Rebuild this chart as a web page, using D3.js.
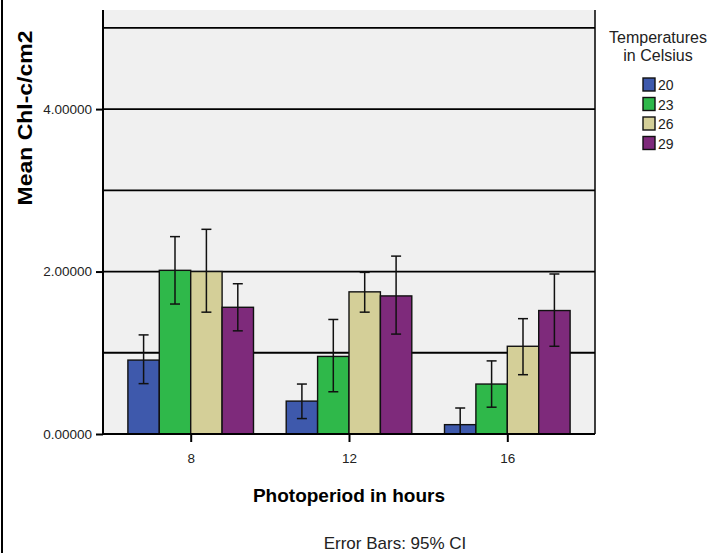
<!DOCTYPE html>
<html>
<head>
<meta charset="utf-8">
<script src="https://cdn.jsdelivr.net/npm/d3@7"></script>
<style>
  body { margin: 0; background: #fff; }
  svg { display: block; font-family: Arial, "Liberation Sans", sans-serif; }
</style>
</head>
<body>
<div id="frame"></div>
<script>
const width = 712
const height = 553
const margin = { top: 10, right: 117, bottom: 119, left: 103 }

// data
const periods = ['8', '12', '16']
const temps = ['20', '23', '26', '29']
const colors = ['#3e59ac', '#2fb84a', '#d4cf98', '#7e2a7b']
const means = [
  [0.91, 2.015, 2.00, 1.56],
  [0.405, 0.955, 1.75, 1.70],
  [0.115, 0.615, 1.08, 1.52]
]
const lower = [
  [0.62, 1.60, 1.50, 1.27],
  [0.19, 0.52, 1.50, 1.23],
  [-0.09, 0.33, 0.73, 1.08]
]
const upper = [
  [1.22, 2.43, 2.52, 1.85],
  [0.615, 1.41, 1.99, 2.19],
  [0.32, 0.90, 1.42, 1.97]
]
const yTicks = [0, 2, 4]
const yGrid = [1, 2, 3, 4, 5]

const x0 = margin.left
const x1 = width - margin.right
const yBottom = height - margin.bottom

const svg = d3.select('#frame').append('svg')
  .attr('width', width)
  .attr('height', height)

// left frame line of the exported picture
svg.append('line')
  .attr('x1', 2).attr('x2', 2).attr('y1', 0).attr('y2', height)
  .attr('stroke', '#000').attr('stroke-width', 2)

const y = d3.scaleLinear().domain([0, 5.22]).range([yBottom, margin.top])
const xGroup = d3.scalePoint().domain(periods).range([x0, x1]).padding(0.554)
const barW = 31.4
const xBar = d3.scaleBand().domain(temps).range([-2 * barW, 2 * barW])

svg.append('defs').append('clipPath').attr('id', 'plot')
  .append('rect').attr('x', x0).attr('y', margin.top)
  .attr('width', x1 - x0).attr('height', yBottom - margin.top)

svg.append('rect')
  .attr('x', x0).attr('y', margin.top)
  .attr('width', x1 - x0).attr('height', yBottom - margin.top)
  .attr('fill', '#f0f0f0')

svg.append('g').selectAll('line').data(yGrid).join('line')
  .attr('x1', x0).attr('x2', x1)
  .attr('y1', d => y(d)).attr('y2', d => y(d))
  .attr('stroke', '#000').attr('stroke-width', 1.8)

const rows = periods.flatMap((p, i) => temps.map((t, j) => ({
  p, t, j, mean: means[i][j], lo: lower[i][j], hi: upper[i][j]
})))

const plot = svg.append('g').attr('clip-path', 'url(#plot)')

plot.selectAll('rect.bar').data(rows).join('rect')
  .attr('class', 'bar')
  .attr('x', d => xGroup(d.p) + xBar(d.t))
  .attr('y', d => y(d.mean))
  .attr('width', xBar.bandwidth())
  .attr('height', d => y(0) - y(d.mean))
  .attr('fill', d => colors[d.j])
  .attr('stroke', '#111').attr('stroke-width', 1.4)

const err = plot.selectAll('g.err').data(rows).join('g')
  .attr('class', 'err')
  .attr('transform', d => `translate(${xGroup(d.p) + xBar(d.t) + xBar.bandwidth() / 2},0)`)
  .attr('stroke', '#111').attr('stroke-width', 1.5)
err.append('line')
  .attr('y1', d => y(d.lo)).attr('y2', d => y(d.hi))
err.append('line')
  .attr('x1', -5).attr('x2', 5)
  .attr('y1', d => y(d.hi)).attr('y2', d => y(d.hi))
err.append('line')
  .attr('x1', -5).attr('x2', 5)
  .attr('y1', d => y(d.lo)).attr('y2', d => y(d.lo))

// axes
const yAxis = svg.append('g')
  .attr('transform', `translate(${x0},0)`)
  .call(d3.axisLeft(y).tickValues(yTicks).tickSize(7).tickPadding(4).tickFormat(d3.format('.5f')))
yAxis.select('.domain').remove()
yAxis.selectAll('.tick line').attr('stroke', '#000').attr('stroke-width', 2)
yAxis.selectAll('.tick text').attr('font-size', 13.5).attr('fill', '#222')
  .attr('font-family', 'Arial, "Liberation Sans", sans-serif')

const xAxis = svg.append('g')
  .attr('transform', `translate(0,${yBottom})`)
  .call(d3.axisBottom(xGroup).tickSize(8).tickPadding(11))
xAxis.select('.domain').remove()
xAxis.selectAll('.tick line').attr('stroke', '#000').attr('stroke-width', 2)
xAxis.selectAll('.tick text').attr('font-size', 13.5).attr('fill', '#222')
  .attr('font-family', 'Arial, "Liberation Sans", sans-serif')

svg.append('line')
  .attr('x1', x0).attr('x2', x0).attr('y1', margin.top).attr('y2', yBottom + 1)
  .attr('stroke', '#000').attr('stroke-width', 2)
svg.append('line')
  .attr('x1', x1).attr('x2', x1).attr('y1', margin.top).attr('y2', yBottom)
  .attr('stroke', '#000').attr('stroke-width', 1.5)
svg.append('line')
  .attr('x1', x0).attr('x2', x1).attr('y1', yBottom).attr('y2', yBottom)
  .attr('stroke', '#000').attr('stroke-width', 2)

// titles
svg.append('text')
  .attr('transform', 'translate(32,118) rotate(-90)')
  .attr('text-anchor', 'middle')
  .attr('font-size', 21).attr('font-weight', 'bold')
  .attr('textLength', 175).attr('lengthAdjust', 'spacingAndGlyphs')
  .text('Mean Chl-c/cm2')

svg.append('text')
  .attr('x', 349).attr('y', 502)
  .attr('text-anchor', 'middle')
  .attr('font-size', 19).attr('font-weight', 'bold')
  .text('Photoperiod in hours')

svg.append('text')
  .attr('x', 395).attr('y', 549)
  .attr('text-anchor', 'middle')
  .attr('font-size', 17).attr('fill', '#222')
  .text('Error Bars: 95% CI')

// legend
const legend = svg.append('g')
legend.append('text').attr('x', 658).attr('y', 43)
  .attr('text-anchor', 'middle').attr('font-size', 16).attr('fill', '#222')
  .text('Temperatures')
legend.append('text').attr('x', 658).attr('y', 61)
  .attr('text-anchor', 'middle').attr('font-size', 16).attr('fill', '#222')
  .text('in Celsius')

const item = legend.selectAll('g.item').data(temps).join('g')
  .attr('class', 'item')
  .attr('transform', (d, i) => `translate(643,${78 + i * 19.5})`)
item.append('rect')
  .attr('width', 12).attr('height', 13)
  .attr('fill', (d, i) => colors[i])
  .attr('stroke', '#111').attr('stroke-width', 1.4)
item.append('text')
  .attr('x', 15).attr('y', 12)
  .attr('font-size', 14).attr('fill', '#222')
  .text(d => d)
</script>
</body>
</html>
